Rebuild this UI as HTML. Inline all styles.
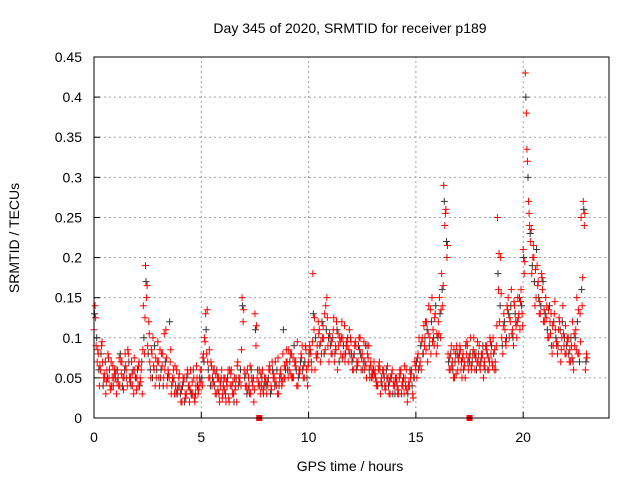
<!DOCTYPE html>
<html><head><meta charset="utf-8"><style>
body{margin:0;background:#fff}
svg{display:block;font-family:"Liberation Sans",sans-serif}
</style></head><body>
<svg id="chart" width="640" height="480" viewBox="0 0 640 480">
<rect width="640" height="480" fill="#fff"/>
<text x="350" y="33" font-size="14" text-anchor="middle">Day 345 of 2020, SRMTID for receiver p189</text>
<text transform="translate(19,238) rotate(-90)" font-size="14" text-anchor="middle">SRMTID / TECUs</text>
<text x="350" y="471" font-size="14" text-anchor="middle">GPS time / hours</text>
<g id="grid"></g>
<g id="ticks"></g>
<g id="marks"></g>
<rect x="94" y="57" width="515" height="361" fill="none" stroke="#000" stroke-width="1"/>
</svg>
<script>
const xTicks=[0,5,10,15,20];
const yTicks=[0,0.05,0.1,0.15,0.2,0.25,0.3,0.35,0.4,0.45];
const yTickLabels=["0","0.05","0.1","0.15","0.2","0.25","0.3","0.35","0.4","0.45"];
const sampleStep=0.1;
const gapMarkers=[7.7,17.5];
const seriesA=[.11,.09,.08,.06,.07,.05,.06,.05,.07,.04,.05,.06,.04,.07,.05,.06,.08,.05,.04,.06,.05,.07,.06,.14,.19,.09,.07,.08,.06,.05,.07,.05,.08,.06,.04,.05,.03,.06,.04,.03,.04,.02,.05,.03,.04,.06,.03,.02,.05,.04,.06,.08,.13,.07,.05,.04,.06,.03,.05,.04,.03,.05,.04,.02,.06,.03,.04,.07,.05,.15,.06,.04,.05,.03,.04,.13,.05,.06,.04,.03,.05,.04,.06,.07,.05,.04,.03,.06,.08,.05,.07,.06,.08,.05,.07,.04,.06,.09,.05,.06,.07,.08,.18,.06,.09,.11,.08,.10,.14,.09,.10,.08,.07,.12,.09,.08,.10,.07,.09,.11,.08,.06,.09,.07,.10,.08,.06,.05,.09,.07,.05,.06,.04,.07,.05,.06,.04,.05,.03,.06,.04,.05,.03,.06,.04,.05,.02,.04,.06,.05,.06,.08,.07,.10,.09,.12,.14,.08,.11,.13,.09,.15,.18,.29,.26,.08,.06,.07,.05,.09,.07,.06,.08,.05,.09,.07,.06,.10,.08,.07,.06,.08,.07,.09,.06,.08,.10,.07,.25,.12,.10,.13,.09,.15,.12,.11,.14,.10,.13,.16,.21,.43,.32,.24,.18,.20,.15,.17,.13,.16,.12,.14,.10,.13,.09,.11,.08,.12,.10,.09,.08,.10,.07,.12,.09,.15,.08,.25,.27,.06];
const seriesB=[.14,.07,.04,.09,.05,.03,.08,.04,.05,.06,.03,.04,.07,.05,.08,.04,.05,.07,.03,.05,.04,.05,.03,.08,.15,.12,.05,.10,.04,.07,.04,.08,.05,.11,.06,.07,.05,.03,.06,.05,.02,.05,.03,.06,.02,.03,.05,.04,.03,.06,.04,.10,.08,.05,.07,.06,.03,.05,.02,.06,.05,.02,.06,.04,.03,.05,.02,.05,.04,.12,.04,.06,.03,.05,.02,.09,.04,.03,.06,.05,.03,.06,.04,.05,.07,.03,.05,.04,.05,.07,.05,.08,.05,.07,.04,.06,.08,.05,.09,.04,.09,.06,.11,.08,.12,.07,.10,.13,.15,.07,.08,.11,.09,.06,.10,.12,.08,.09,.07,.10,.06,.09,.07,.10,.06,.07,.09,.08,.05,.06,.07,.04,.06,.03,.06,.04,.05,.03,.05,.04,.05,.03,.06,.04,.03,.06,.04,.05,.03,.07,.05,.10,.06,.08,.12,.07,.10,.15,.09,.08,.12,.10,.14,.24,.20,.06,.09,.05,.08,.06,.09,.05,.07,.08,.06,.10,.08,.06,.07,.09,.08,.05,.09,.06,.10,.07,.06,.09,.16,.20,.08,.11,.14,.10,.16,.09,.12,.15,.11,.13,.18,.38,.27,.22,.20,.14,.19,.13,.18,.12,.15,.10,.12,.08,.13,.09,.11,.07,.14,.08,.10,.07,.09,.06,.11,.08,.13,.14,.24,.08];
const seriesC=[.13,.10,.06,.08,.04,.07,.05,.06,.04,.05,.06,.05,.08,.04,.06,.05,.07,.04,.06,.05,.06,.04,.07,.10,.17,.08,.06,.05,.09,.06,.05,.06,.04,.07,.05,.12,.04,.05,.03,.04,.03,.04,.02,.05,.04,.03,.06,.03,.04,.05,.05,.07,.11,.06,.04,.05,.04,.06,.03,.05,.04,.03,.05,.06,.04,.02,.05,.04,.06,.14,.05,.03,.04,.06,.05,.11,.06,.04,.05,.04,.04,.05,.03,.06,.04,.06,.04,.05,.11,.06,.06,.07,.05,.09,.06,.05,.07,.06,.07,.05,.08,.07,.13,.10,.08,.09,.12,.08,.11,.10,.09,.10,.08,.11,.07,.10,.09,.08,.10,.08,.07,.08,.06,.09,.08,.06,.07,.09,.06,.05,.06,.05,.04,.06,.04,.05,.06,.04,.05,.03,.03,.04,.05,.03,.05,.04,.03,.06,.04,.05,.07,.06,.09,.08,.10,.11,.09,.12,.10,.14,.10,.13,.16,.27,.22,.07,.08,.06,.07,.08,.08,.07,.06,.09,.07,.08,.07,.08,.06,.08,.07,.09,.06,.08,.07,.09,.08,.06,.18,.14,.09,.12,.10,.13,.14,.10,.13,.12,.15,.14,.20,.40,.30,.23,.19,.17,.21,.15,.14,.17,.13,.11,.14,.09,.12,.10,.09,.11,.12,.10,.09,.08,.10,.07,.10,.12,.07,.16,.26,.07];
const seriesD=[.125,.085,.065,.095,.055,.045,.075,.035,.065,.055,.045,.075,.055,.035,.065,.085,.045,.055,.075,.035,.065,.045,.085,.125,.165,.105,.085,.065,.075,.095,.085,.065,.105,.075,.055,.085,.045,.065,.035,.055,.035,.045,.025,.055,.035,.045,.025,.065,.035,.045,.075,.095,.135,.085,.065,.045,.055,.035,.045,.025,.035,.045,.025,.055,.045,.035,.065,.045,.085,.135,.055,.035,.065,.045,.035,.115,.045,.055,.035,.045,.045,.065,.035,.055,.045,.075,.055,.045,.065,.085,.085,.055,.075,.065,.095,.055,.075,.065,.085,.065,.085,.095,.125,.075,.105,.095,.115,.085,.125,.105,.095,.125,.085,.105,.095,.075,.115,.095,.085,.095,.075,.095,.065,.085,.075,.095,.065,.075,.065,.055,.055,.045,.065,.045,.055,.035,.065,.045,.055,.045,.045,.035,.055,.045,.065,.035,.045,.055,.025,.065,.075,.065,.095,.115,.085,.105,.135,.095,.125,.105,.105,.135,.165,.255,.215,.075,.065,.085,.055,.075,.085,.075,.065,.095,.075,.065,.085,.075,.095,.065,.075,.065,.085,.075,.095,.065,.085,.115,.205,.155,.115,.095,.135,.125,.105,.145,.115,.125,.145,.115,.195,.335,.255,.235,.215,.185,.165,.145,.175,.135,.125,.135,.105,.115,.145,.095,.125,.085,.105,.115,.095,.085,.075,.105,.085,.135,.095,.175,.255,.075];

const NS="http://www.w3.org/2000/svg";
const X0=94,X1=609,Y0=418,Y1=57;
const xScale=h=>X0+h/24*(X1-X0);
const yScale=v=>Y0-v/0.45*(Y0-Y1);
const grid=document.getElementById('grid'),ticks=document.getElementById('ticks'),marks=document.getElementById('marks');
function mk(tag,attrs,parent){const e=document.createElementNS(NS,tag);for(const k in attrs)e.setAttribute(k,attrs[k]);parent.appendChild(e);return e;}
xTicks.forEach(t=>{const x=xScale(t);
 if(t>0){const g=mk('line',{x1:x,x2:x,y1:Y0,y2:Y1,stroke:'#a0a0a0','stroke-dasharray':'2,3'},grid);}
 const l=mk('line',{x1:x,x2:x,y1:Y0,y2:Y0-6,stroke:'#000'},ticks);
 const tx=mk('text',{x:x,y:Y0+24,'font-size':14,'text-anchor':'middle'},ticks);tx.textContent=t;
 
 });
yTicks.forEach((t,i)=>{const y=yScale(t);
 if(t>0&&t<0.45){const g=mk('line',{x1:X0,x2:X1,y1:y,y2:y,stroke:'#a0a0a0','stroke-dasharray':'2,3'},grid);}
 const l=mk('line',{x1:X0,x2:X0+6,y1:y,y2:y,stroke:'#000'},ticks);
 const tx=mk('text',{x:X0-12,y:y+5,'font-size':14,'text-anchor':'end'},ticks);tx.textContent=yTickLabels[i];
 
 });
function plus(h,v,color){const x=xScale(h),y=yScale(v);
 const p=mk('path',{d:`M${x-3.5},${y}H${x+3.5}M${x},${y-3.5}V${y+3.5}`,stroke:color,'stroke-width':1,fill:'none'},marks);
 
 }
seriesC.forEach((v,i)=>plus(i*sampleStep+0.025,v,'#333'));
seriesA.forEach((v,i)=>plus(i*sampleStep,v,'#ff0000'));
seriesB.forEach((v,i)=>plus(i*sampleStep+0.05,v,'#ff0000'));
seriesD.forEach((v,i)=>plus(i*sampleStep+0.075,v,'#ff0000'));
gapMarkers.forEach(h=>{const r=mk('rect',{x:xScale(h)-3,y:Y0-3,width:6,height:6,fill:'#ff0000'},marks);
 
 });
</script>
</body></html>
